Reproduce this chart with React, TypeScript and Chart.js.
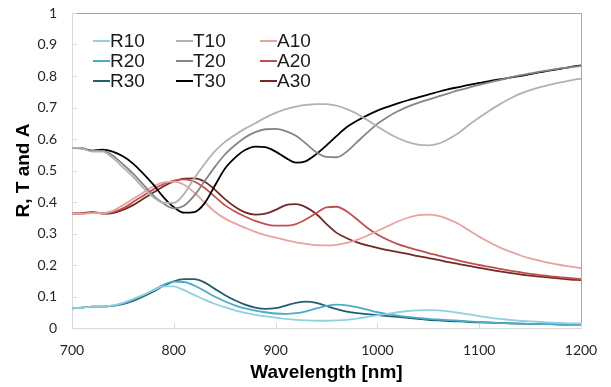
import React, { useEffect, useRef } from "react";
import { Chart, registerables } from "chart.js";

Chart.register(...registerables);

const wavelengths = [
  700, 710, 720, 730, 740, 750, 760, 770, 780, 790, 800, 810, 820, 830, 840, 850, 860, 870, 880, 890,
  900, 910, 920, 930, 940, 950, 960, 970, 980, 990, 1000, 1010, 1020, 1030, 1040, 1050, 1060, 1070,
  1080, 1090, 1100, 1110, 1120, 1130, 1140, 1150, 1160, 1170, 1180, 1190, 1200,
];

const R10 = [
  0.062, 0.065, 0.068, 0.068, 0.072, 0.08, 0.092, 0.105, 0.12, 0.132, 0.132, 0.12, 0.105, 0.09, 0.077,
  0.066, 0.056, 0.048, 0.042, 0.037, 0.033, 0.029, 0.026, 0.024, 0.023, 0.023, 0.024, 0.026, 0.03, 0.035,
  0.04, 0.045, 0.05, 0.054, 0.056, 0.057, 0.056, 0.053, 0.048, 0.043, 0.038, 0.033, 0.029, 0.026, 0.023,
  0.021, 0.019, 0.017, 0.016, 0.015, 0.014,
];
const R20 = [
  0.062, 0.065, 0.068, 0.068, 0.071, 0.078, 0.09, 0.104, 0.12, 0.137, 0.147, 0.146, 0.135, 0.118, 0.1,
  0.085, 0.072, 0.062, 0.055, 0.05, 0.046, 0.045, 0.047, 0.053, 0.062, 0.07, 0.074, 0.072, 0.066, 0.058,
  0.05, 0.044, 0.039, 0.035, 0.032, 0.029, 0.027, 0.025, 0.023, 0.021, 0.019, 0.018, 0.016, 0.015, 0.014,
  0.013, 0.012, 0.012, 0.011, 0.011, 0.01,
];
const R30 = [
  0.062, 0.065, 0.068, 0.068, 0.07, 0.076, 0.086, 0.1, 0.116, 0.134, 0.148, 0.155, 0.155, 0.145, 0.125,
  0.105, 0.088, 0.074, 0.065, 0.061, 0.063, 0.071, 0.08, 0.084, 0.08, 0.07, 0.06, 0.052, 0.047, 0.044,
  0.041, 0.038, 0.035, 0.032, 0.029, 0.026, 0.024, 0.022, 0.021, 0.019, 0.018, 0.017, 0.016, 0.015, 0.014,
  0.013, 0.012, 0.012, 0.011, 0.011, 0.01,
];
const T10 = [
  0.572, 0.57, 0.56, 0.56, 0.54, 0.51, 0.48, 0.445, 0.415, 0.397, 0.397, 0.425, 0.475, 0.52, 0.56, 0.59,
  0.613, 0.633, 0.65, 0.668, 0.683, 0.695, 0.703, 0.708, 0.711, 0.711, 0.706, 0.695, 0.68, 0.66, 0.64,
  0.62, 0.603, 0.59, 0.582, 0.58, 0.585, 0.6, 0.62, 0.645, 0.668, 0.69, 0.71, 0.728, 0.743, 0.755, 0.765,
  0.773, 0.78, 0.786, 0.792,
];
const T20 = [
  0.572, 0.57, 0.562, 0.562, 0.548, 0.52, 0.49, 0.455, 0.42, 0.395, 0.38, 0.388, 0.42, 0.465, 0.51, 0.55,
  0.58, 0.605, 0.622, 0.631, 0.632, 0.625, 0.61, 0.585, 0.558, 0.543, 0.542, 0.56, 0.59, 0.62, 0.648,
  0.67, 0.688, 0.703, 0.715, 0.725, 0.735, 0.745, 0.755, 0.763, 0.772, 0.78, 0.787, 0.795, 0.802, 0.808,
  0.814, 0.819, 0.824, 0.828, 0.832,
];
const T30 = [
  0.571, 0.57, 0.563, 0.566, 0.56, 0.545, 0.522, 0.49, 0.455, 0.415, 0.384, 0.366, 0.368, 0.395, 0.45,
  0.505, 0.54, 0.565, 0.576, 0.574, 0.56, 0.54, 0.525, 0.53, 0.552, 0.58, 0.61, 0.638, 0.658, 0.675, 0.69,
  0.702, 0.713, 0.723, 0.732, 0.741, 0.75, 0.758, 0.765, 0.772, 0.778, 0.784, 0.789, 0.795, 0.8, 0.806,
  0.812, 0.818, 0.823, 0.829, 0.834,
];
const A10 = [
  0.363, 0.363, 0.365, 0.365, 0.372, 0.39, 0.41, 0.43, 0.45, 0.462, 0.465, 0.455, 0.43, 0.4, 0.37, 0.348,
  0.332, 0.318, 0.305, 0.295, 0.287, 0.279, 0.272, 0.267, 0.263, 0.262, 0.264, 0.27, 0.28, 0.293, 0.308,
  0.323, 0.338, 0.35, 0.358, 0.36, 0.356, 0.345, 0.33, 0.31, 0.29, 0.272, 0.256, 0.243, 0.231, 0.221,
  0.213, 0.206, 0.2, 0.195, 0.19,
];
const A20 = [
  0.363, 0.363, 0.367, 0.365, 0.368, 0.38, 0.4, 0.42, 0.44, 0.457, 0.468, 0.472, 0.465, 0.445, 0.418, 0.39,
  0.37, 0.354, 0.34, 0.33, 0.325, 0.325, 0.33, 0.345, 0.365, 0.383, 0.385, 0.37, 0.345, 0.318, 0.297,
  0.28, 0.266, 0.256, 0.247, 0.238, 0.23, 0.222, 0.214, 0.207, 0.2, 0.194, 0.188, 0.182, 0.177, 0.172,
  0.168, 0.164, 0.161, 0.158, 0.155,
];
const A30 = [
  0.363, 0.365, 0.368, 0.363, 0.365, 0.375, 0.39, 0.41, 0.43, 0.45, 0.465, 0.474, 0.475, 0.465, 0.44, 0.41,
  0.385, 0.367, 0.36, 0.363, 0.375, 0.39, 0.393, 0.383, 0.362, 0.33, 0.302, 0.285, 0.272, 0.262, 0.254,
  0.247, 0.241, 0.235, 0.228, 0.222, 0.216, 0.209, 0.203, 0.197, 0.191, 0.185, 0.18, 0.175, 0.17, 0.166,
  0.163, 0.16, 0.157, 0.154, 0.152,
];

const xTicks = [700, 800, 900, 1000, 1100, 1200];
const yTicks = [0, 0.1, 0.2, 0.3, 0.4, 0.5, 0.6, 0.7, 0.8, 0.9, 1];

const seriesNames = ["R10", "R20", "R30", "T10", "T20", "T30", "A10", "A20", "A30"];
const seriesValues = [R10, R20, R30, T10, T20, T30, A10, A20, A30];
const seriesColors = [
  "#93cfdf", "#4bacc6", "#215f6e",
  "#b2b2b2", "#858585", "#000000",
  "#e6a3a2", "#c0504d", "#722828",
];

const TICK_FONT = "Lato, 'Open Sans', sans-serif";
const ARIAL = "'Liberation Sans', Arial, sans-serif";

const framePlugin = {
  id: "frame",
  beforeDatasetsDraw(chart: any) {
    const { ctx, chartArea: a, scales } = chart;
    ctx.save();
    ctx.lineWidth = 1;
    ctx.strokeStyle = "#a6a6a6";
    ctx.beginPath();
    ctx.moveTo(a.left, Math.round(a.top) + 0.5);
    ctx.lineTo(Math.round(a.right) + 0.5, Math.round(a.top) + 0.5);
    ctx.lineTo(Math.round(a.right) + 0.5, a.bottom);
    ctx.stroke();
    ctx.strokeStyle = "#d9d9d9";
    ctx.beginPath();
    for (const v of yTicks) {
      const y = Math.round(scales.y.getPixelForValue(v)) + 0.5;
      ctx.moveTo(a.left, y);
      ctx.lineTo(a.left + 5, y);
    }
    for (const v of xTicks) {
      const x = Math.round(scales.x.getPixelForValue(v)) + 0.5;
      ctx.moveTo(x, a.bottom);
      ctx.lineTo(x, a.bottom - 5);
    }
    ctx.stroke();
    ctx.restore();
  },
};

const legendPlugin = {
  id: "insideLegend",
  afterDraw(chart: any) {
    const { ctx, chartArea: a } = chart;
    ctx.save();
    ctx.font = `19px ${ARIAL}`;
    ctx.textBaseline = "middle";
    ctx.textAlign = "left";
    const colX = [21, 104, 188];
    const rowY = [28, 48, 68];
    chart.data.datasets.forEach((ds: any, i: number) => {
      const col = Math.floor(i / 3);
      const row = i % 3;
      const x = a.left + colX[col];
      const y = a.top + rowY[row];
      ctx.strokeStyle = ds.borderColor;
      ctx.lineWidth = 2;
      ctx.beginPath();
      ctx.moveTo(x, y);
      ctx.lineTo(x + 17, y);
      ctx.stroke();
      ctx.fillStyle = "#1a1a1a";
      ctx.fillText(ds.label, x + 17, y + 1);
    });
    ctx.restore();
  },
};

export default function App() {
  const canvasRef = useRef<HTMLCanvasElement | null>(null);

  useEffect(() => {
    const canvas = canvasRef.current;
    if (!canvas) return;
    const datasets = seriesNames.map((name, i) => ({
      label: name,
      data: wavelengths.map((w, j) => ({ x: w, y: seriesValues[i][j] })),
      borderColor: seriesColors[i],
      backgroundColor: seriesColors[i],
      borderWidth: 1.8,
      pointRadius: 0,
      tension: 0.4,
      cubicInterpolationMode: "monotone" as const,
      fill: false,
    }));
    const chart = new Chart(canvas, {
      type: "line",
      data: { datasets },
      plugins: [framePlugin, legendPlugin],
      options: {
        animation: false,
        responsive: false,
        devicePixelRatio: 1,
        layout: { padding: { left: 0, top: 13, right: 30, bottom: 0 } },
        plugins: { legend: { display: false }, tooltip: { enabled: false } },
        scales: {
          x: {
            type: "linear",
            min: 700,
            max: 1200,
            afterFit: (s: any) => {
              s.height = 59;
              s.paddingLeft = 0;
              s.paddingRight = 0;
            },
            afterBuildTicks: (s: any) => {
              s.ticks = xTicks.map((v) => ({ value: v }));
            },
            ticks: {
              padding: 14,
              maxRotation: 0,
              color: "#262626",
              font: { family: TICK_FONT, size: 14 },
              callback: (v: any) => String(v),
            },
            grid: { display: true, color: "transparent", drawTicks: false },
            border: { display: true, color: "#d9d9d9", width: 1 },
            title: {
              display: true,
              text: "Wavelength [nm]",
              color: "#000",
              font: { family: ARIAL, size: 19, weight: "bold" },
              padding: { top: 0, bottom: 3 },
            },
          },
          y: {
            type: "linear",
            min: 0,
            max: 1,
            afterFit: (s: any) => {
              s.width = 72;
              s.paddingTop = 0;
              s.paddingBottom = 0;
            },
            afterBuildTicks: (s: any) => {
              s.ticks = yTicks.map((v) => ({ value: v }));
            },
            ticks: {
              padding: 15,
              color: "#262626",
              font: { family: TICK_FONT, size: 14 },
              callback: (v: any) => String(Math.round(Number(v) * 10) / 10),
            },
            grid: { display: true, color: "transparent", drawTicks: false },
            border: { display: true, color: "#d9d9d9", width: 1 },
            title: {
              display: true,
              text: "R, T and A",
              color: "#000",
              font: { family: ARIAL, size: 19, weight: "bold" },
              padding: { top: 12, bottom: 0 },
            },
          },
        },
      },
    });
    return () => chart.destroy();
  }, []);

  return (
    <div style={{ position: "fixed", left: 0, top: 0, width: 611, height: 387, background: "#fff" }}>
      <canvas ref={canvasRef} width={611} height={387} style={{ display: "block", width: 611, height: 387 }} />
    </div>
  );
}
